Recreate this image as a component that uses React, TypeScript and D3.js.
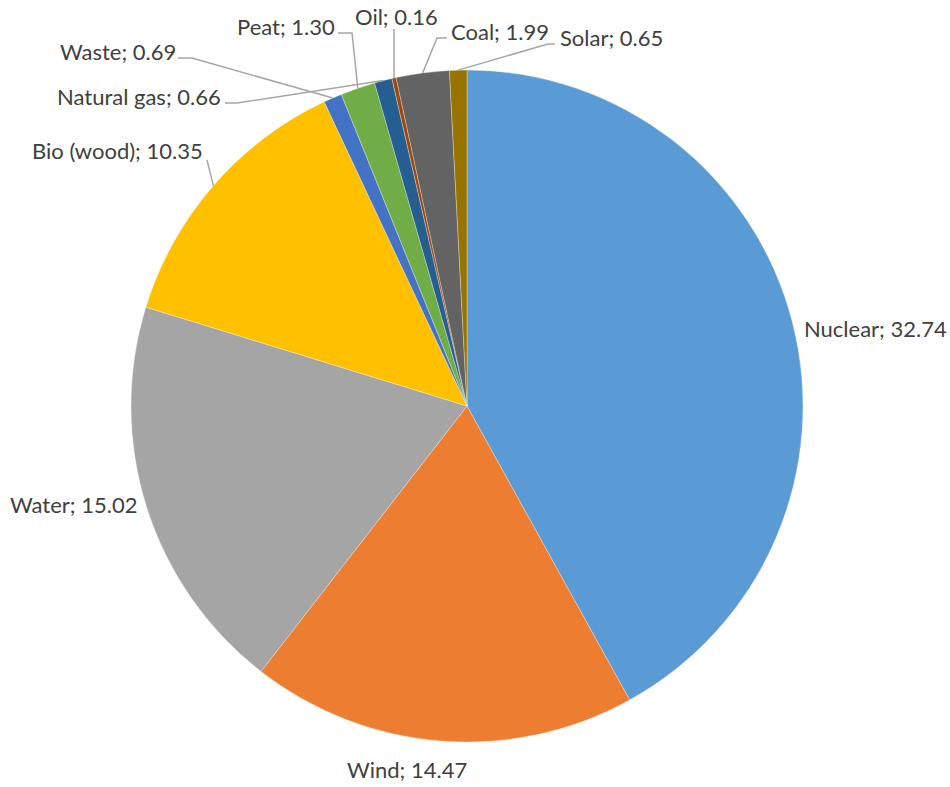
import React from "react";
import * as d3 from "d3";

const categories = ["Nuclear", "Wind", "Water", "Bio (wood)", "Waste", "Peat", "Natural gas", "Oil", "Coal", "Solar"];
const values = [32.74, 14.47, 15.02, 10.35, 0.69, 1.3, 0.66, 0.16, 1.99, 0.65];
const colors = ["#5B9BD5", "#ED7D31", "#A5A5A5", "#FFC000", "#4472C4", "#70AD47", "#255E91", "#9E480E", "#636363", "#997300"];

// label layout (text position + leader polyline start points)
const labelLayout: Record<string, { x: number; y: number; leader?: [number, number][] }> = {
  "Nuclear": { x: 804, y: 337 },
  "Wind": { x: 347, y: 778 },
  "Water": { x: 10, y: 513 },
  "Bio (wood)": { x: 32, y: 159, leader: [[207, 160]] },
  "Waste": { x: 60, y: 60, leader: [[178, 58], [192, 58]] },
  "Peat": { x: 237, y: 35, leader: [[338, 33], [352, 33]] },
  "Natural gas": { x: 57, y: 105, leader: [[225, 103], [237, 103]] },
  "Oil": { x: 355, y: 25, leader: [[394, 29]] },
  "Coal": { x: 451, y: 40, leader: [[447, 38], [437, 38]] },
  "Solar": { x: 560, y: 46, leader: [[555, 44], [548, 44]] },
};

const W = 950;
const H = 787;
const CX = 467;
const CY = 406;
const R = 336;

export default function App() {
  const data = categories.map((c, i) => ({ name: c, value: values[i], color: colors[i] }));
  const pie = d3.pie<any>().sort(null).value((d) => d.value).startAngle(0).endAngle(2 * Math.PI);
  const arcs = pie(data);
  const arc = d3.arc<any>().innerRadius(0).outerRadius(R);
  const edge = d3.arc<any>().innerRadius(R).outerRadius(R);
  const line = d3.line();

  return (
    <svg width={W} height={H} style={{ position: "absolute", left: 0, top: 0 }} fontFamily="Lato, 'Open Sans', sans-serif">
      <rect width={W} height={H} fill="#fff" />
      <g transform={`translate(${CX},${CY})`}>
        {arcs.map((a, i) => (
          <path key={i} d={arc(a) as string} fill={a.data.color} stroke="#fff" strokeWidth={0.3} />
        ))}
      </g>
      {arcs.map((a, i) => {
        const lay = labelLayout[a.data.name];
        if (!lay.leader) return null;
        const [ex, ey] = edge.centroid(a);
        const pts: [number, number][] = [...lay.leader, [ex + CX, ey + CY]];
        return <path key={"l" + i} d={line(pts) as string} fill="none" stroke="#A6A6A6" strokeWidth={1.5} />;
      })}
      {arcs.map((a, i) => {
        const lay = labelLayout[a.data.name];
        return (
          <text key={"t" + i} x={lay.x} y={lay.y} fontSize={22} fill="#404040">
            {`${a.data.name}; ${a.data.value.toFixed(2)}`}
          </text>
        );
      })}
    </svg>
  );
}
